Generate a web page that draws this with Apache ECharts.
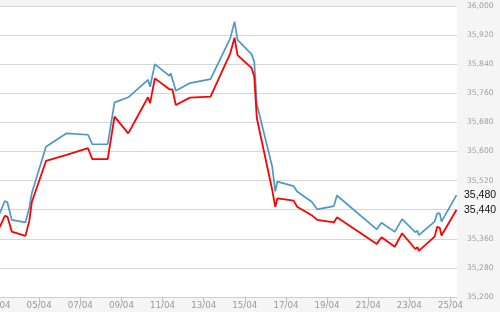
<!DOCTYPE html>
<html>
<head>
<meta charset="utf-8">
<script src="https://cdn.jsdelivr.net/npm/echarts@6/dist/echarts.min.js"></script>
<style>
html,body{margin:0;padding:0;background:#f5f5f5;}
#chart{width:500px;height:312px;}
</style>
</head>
<body>
<div id="chart"></div>
<script>
// hours since 03/04 00:00
const hours = [2, 8, 11, 16, 32, 36.5, 39.5, 56, 80, 105, 106.5, 110, 128, 136, 152,
  175, 177.5, 183, 200, 201.5, 203.5, 207.5, 224, 248, 271, 276, 279.5, 296, 299, 302,
  320, 323.5, 326, 345, 349, 366, 372.5, 392, 395.5, 442, 447.5, 463, 471.5, 487, 489.5,
  491, 509.5, 512.5, 515.5, 517.5, 535];
const blueValues = [35430, 35464, 35460, 35412, 35405, 35445, 35486, 35613, 35650, 35646, 35650, 35620, 35620, 35735, 35749,
  35797, 35778, 35840, 35808, 35815, 35810, 35767, 35788, 35799, 35911, 35957, 35907, 35867, 35847, 35731,
  35558, 35490, 35517, 35505, 35490, 35462, 35441, 35450, 35479, 35386, 35404, 35379, 35414, 35378, 35382,
  35370, 35407, 35430, 35430, 35407, 35480];
const redValues = [35392, 35423, 35421, 35380, 35368, 35409, 35461, 35574, 35591, 35609, 35605, 35579, 35579, 35696, 35650,
  35749, 35733, 35801, 35771, 35775, 35771, 35728, 35748, 35751, 35870, 35913, 35865, 35829, 35806, 35692,
  35494, 35448, 35471, 35465, 35448, 35425, 35412, 35405, 35419, 35346, 35364, 35338, 35375, 35332, 35337,
  35327, 35366, 35393, 35390, 35369, 35440];
const xTickLabels = ['03/04','05/04','07/04','09/04','11/04','13/04','15/04','17/04','19/04','21/04','23/04','25/04'];
const yMin = 35200, yMax = 36000, yStep = 80;

const fmt = v => Math.round(v).toLocaleString('en-US');
const lastBlue = blueValues[blueValues.length - 1];
const lastRed = redValues[redValues.length - 1];

const chart = echarts.init(document.getElementById('chart'), null, {renderer: 'canvas'});
chart.setOption({
  animation: false,
  backgroundColor: '#f5f5f5',
  grid: {left: -2, right: 43, top: 6, bottom: 15, show: true, backgroundColor: '#ffffff', borderWidth: 0,
         containLabel: false, outerBoundsMode: 'none'},
  xAxis: {
    type: 'value', min: 0, max: 535.6, interval: 48,
    axisLine: {show: true, lineStyle: {color: '#c4d0da', width: 1}},
    axisTick: {show: true, length: 5, lineStyle: {color: '#a8c6de', width: 1}},
    splitLine: {show: false},
    axisLabel: {
      color: '#9a9a9a', fontFamily: 'DejaVu Sans', fontSize: 8.7, margin: 4,
      showMaxLabel: false, hideOverlap: false,
      formatter: v => (Math.abs(v % 48) < 1e-6 ? (xTickLabels[Math.round(v / 48)] || '') : '')
    }
  },
  yAxis: {
    type: 'value', position: 'right', min: yMin, max: yMax, interval: yStep,
    axisLine: {show: true, lineStyle: {color: '#cccccc', width: 1}},
    axisTick: {show: false},
    splitLine: {show: true, lineStyle: {color: '#d6d6d6', width: 1}},
    axisLabel: {
      color: '#a0a0a0', fontFamily: 'DejaVu Sans', fontSize: 7.6, margin: 10,
      formatter: v => (Math.abs(v - lastBlue) < 20 || Math.abs(v - lastRed) < 20) ? '' : fmt(v)
    }
  },
  series: [
    {
      name: 'Blue', type: 'line', showSymbol: false, symbol: 'none',
      data: hours.map((h, i) => [h, blueValues[i]]),
      lineStyle: {color: '#4e97c9', width: 1.7},
      itemStyle: {color: '#4e97c9'},
      endLabel: {show: true, distance: 7.5, formatter: p => fmt(p.value[1]), color: '#111', fontFamily: 'Liberation Sans', fontSize: 10.5}
    },
    {
      name: 'Red', type: 'line', showSymbol: false, symbol: 'none',
      data: hours.map((h, i) => [h, redValues[i]]),
      lineStyle: {color: '#ff0000', width: 1.8},
      itemStyle: {color: '#ff0000'},
      endLabel: {show: true, distance: 7.5, formatter: p => fmt(p.value[1]), color: '#111', fontFamily: 'Liberation Sans', fontSize: 10.5}
    }
  ]
});
</script>
</body>
</html>
